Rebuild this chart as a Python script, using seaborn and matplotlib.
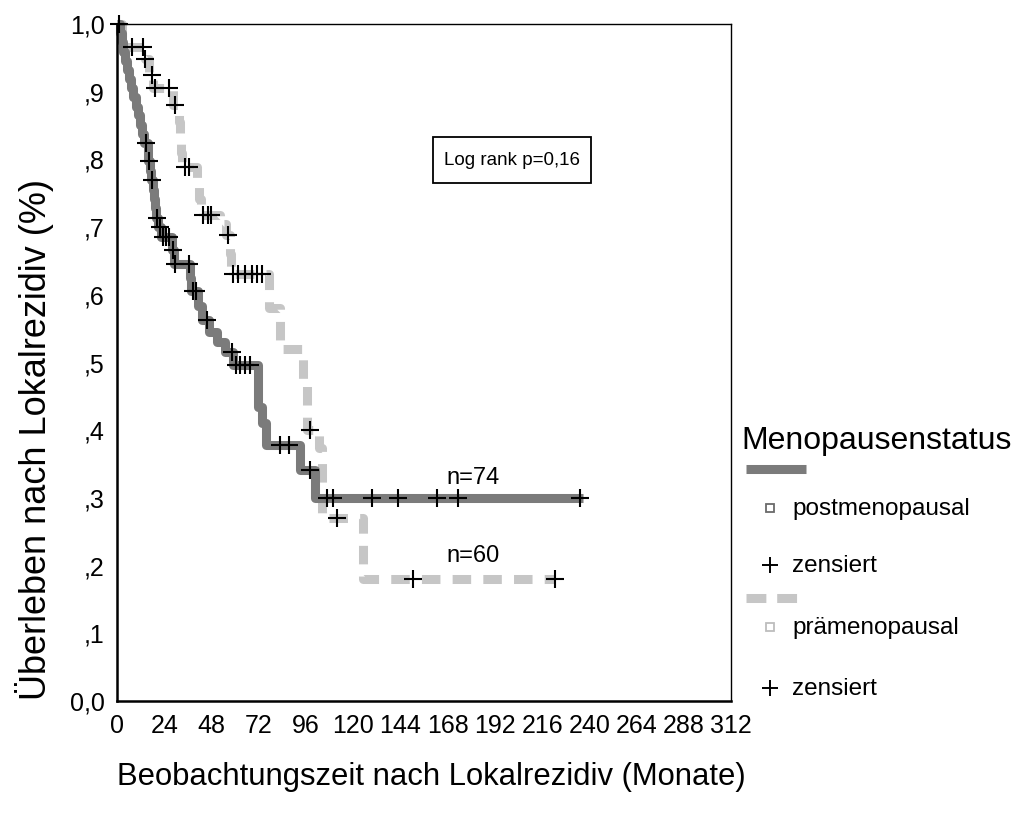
import numpy as np
import pandas as pd
import matplotlib
matplotlib.use("Agg")
import matplotlib.pyplot as plt
from matplotlib.lines import Line2D
from matplotlib.patches import Rectangle
from matplotlib import font_manager
import seaborn as sns

# ---------------- data ----------------
# postmenopausal (n=74): step curve (time in months, survival)
post_t = [0, 1.5, 2.5, 3, 4, 5, 6, 7, 8, 9.5, 10.5, 11.5, 12.5, 13.5, 15.5, 16, 17, 17.5, 18.5, 19,
          19.5, 20, 21, 22.5, 28, 29, 37.2, 37.6, 41, 43, 47, 51, 55, 59, 71.5, 73.5, 75.5, 93, 100.5, 237]
post_s = [1.0, .986, .973, .959, .946, .932, .919, .905, .892, .878, .865, .851, .838, .824, .811, .797, .783, .769, .755, .741,
          .728, .714, .700, .686, .666, .646, .625, .605, .584, .563, .545, .530, .516, .496, .435, .410, .378, .341, .300, .300]
# postmenopausal censored observations
post_ct = [1.0, 14.6, 16.4, 17.6, 20.2, 21.8, 23.5, 25, 26.5, 28.3, 29.5, 36.8, 38.5, 40, 45.6, 58.3, 60.5, 62.5, 65, 67.5,
           83, 87.5, 98, 106.5, 110, 129.4, 143, 162.4, 173.4, 235.3]
post_cs = [1.0, .824, .797, .769, .714, .700, .686, .686, .686, .666, .646, .646, .605, .605, .563, .516, .496, .496, .496, .496,
           .378, .378, .341, .300, .300, .300, .300, .300, .300, .300]

# prämenopausal (n=60)
pre_t = [0, 2.5, 3.5, 14, 16.5, 18.5, 28.5, 31.5, 32, 32.5, 33, 40.5, 41.5, 42.5, 52.5, 55.5, 57.5, 58, 77.4, 83,
         94.7, 96.4, 102.8, 104, 124.8, 222.6]
pre_s = [1.0, .983, .966, .948, .924, .905, .880, .855, .830, .810, .789, .765, .742, .718, .704, .689, .660, .631, .580, .520,
         .470, .400, .374, .270, .180, .180]
pre_ct = [7.5, 13, 14.2, 17.6, 19.3, 26.6, 29.5, 34.6, 36.7, 43.5, 46, 48, 56.2, 59.1, 61.6, 65, 68.4, 71, 73.5,
          98, 111.6, 150.6, 222.6]
pre_cs = [.966, .966, .948, .924, .905, .905, .880, .789, .789, .718, .718, .718, .689, .631, .631, .631, .631, .631, .631,
          .400, .270, .180, .180]

x_ticks = [0, 24, 48, 72, 96, 120, 144, 168, 192, 216, 240, 264, 288, 312]
y_ticks = [0.0, 0.1, 0.2, 0.3, 0.4, 0.5, 0.6, 0.7, 0.8, 0.9, 1.0]
y_ticklabels = ["0,0", ",1", ",2", ",3", ",4", ",5", ",6", ",7", ",8", ",9", "1,0"]

legend_title = "Menopausenstatus"
group_labels = ["postmenopausal", "prämenopausal"]
censor_label = "zensiert"
ylabel = "Überleben nach Lokalrezidiv (%)"
xlabel = "Beobachtungszeit nach Lokalrezidiv (Monate)"
stat_text = "Log rank p=0,16"
n_labels = ["n=74", "n=60"]

# ---------------- style ----------------
sns.set_theme(style="white")
names = {f.name for f in font_manager.fontManager.ttflist}
base = "Liberation Sans" if "Liberation Sans" in names else "DejaVu Sans"
narrow = "Liberation Sans Narrow" if "Liberation Sans Narrow" in names else base
plt.rcParams["font.family"] = [base, "DejaVu Sans"]
plt.rcParams["text.color"] = "black"
plt.rcParams["axes.labelcolor"] = "black"
plt.rcParams["xtick.color"] = "black"
plt.rcParams["ytick.color"] = "black"

dark = "#7b7b7b"
light = "#c6c6c6"
LW = 6.5

W, H = 1022, 821
fig = plt.figure(figsize=(W / 100, H / 100), dpi=100)
ax = fig.add_axes([117 / W, 1 - 701 / H, 614 / W, 677 / H])

def fx(px):
    return px / W

def fy(py):
    return 1 - py / H

# light (dashed) curve
df_pre = pd.DataFrame({"t": pre_t, "s": pre_s})
sns.lineplot(data=df_pre, x="t", y="s", ax=ax, drawstyle="steps-post", color=light,
             linewidth=LW, estimator=None, sort=False)
ln = ax.lines[-1]
ln.set_dashes([2.05, 1.35])
ln.set_dash_capstyle("butt")
ln.set_clip_on(False)

# dark (solid) curve
df_post = pd.DataFrame({"t": post_t, "s": post_s})
sns.lineplot(data=df_post, x="t", y="s", ax=ax, drawstyle="steps-post", color=dark,
             linewidth=LW, estimator=None, sort=False)
ax.lines[-1].set_clip_on(False)
ax.lines[-1].set_solid_capstyle("butt")

# censored marks
sns.scatterplot(x=pre_ct, y=pre_cs, ax=ax, marker="+", color="black", s=150,
                linewidth=1.5, clip_on=False, zorder=5)
sns.scatterplot(x=post_ct, y=post_cs, ax=ax, marker="+", color="black", s=150,
                linewidth=1.5, clip_on=False, zorder=5)

ax.set_xlim(0, 312)
ax.set_ylim(0, 1)
ax.set_xticks(x_ticks)
ax.set_xticklabels([str(v) for v in x_ticks], fontsize=18, family=[narrow, "DejaVu Sans"])
ax.set_yticks(y_ticks)
ax.set_yticklabels(y_ticklabels, fontsize=18, family=[narrow, "DejaVu Sans"])
ax.tick_params(direction="out", length=4, width=3, color="#222222", pad=5, labelcolor="black")
ax.set_xlabel("")
ax.set_ylabel("")
for side in ["left", "bottom"]:
    ax.spines[side].set_linewidth(1.8)
    ax.spines[side].set_color("black")
for side in ["top", "right"]:
    ax.spines[side].set_linewidth(1.0)
    ax.spines[side].set_color("black")
ax.grid(False)

# annotations
ax.add_patch(Rectangle((160.6, 0.765), 80.3, 0.068, facecolor="white", edgecolor="black",
                       linewidth=1.3, zorder=3))
ax.text(200.7, 0.799, stat_text, fontsize=13.5, ha="center", va="center", zorder=4)
ax.text(180.9, 0.329, n_labels[0], fontsize=17, ha="center", va="center")
ax.text(180.9, 0.214, n_labels[1], fontsize=17, ha="center", va="center")

# axis titles
fig.text(fx(35), fy(439), ylabel, rotation=90, fontsize=26, ha="center", va="center")
fig.text(fx(431), fy(777), xlabel, fontsize=22.3, ha="center", va="center")

# legend (drawn manually to mimic layout)
fig.text(fx(741), fy(441), legend_title, fontsize=23, ha="left", va="center")
fig.add_artist(Line2D([fx(746), fx(806)], [fy(469), fy(469)], transform=fig.transFigure,
                      color=dark, linewidth=LW, solid_capstyle="butt"))
fig.add_artist(Line2D([fx(770)], [fy(508)], transform=fig.transFigure, marker="s", markersize=6,
                      markerfacecolor="white", markeredgecolor="#6a6a6a", markeredgewidth=1.3, linestyle="none"))
fig.text(fx(792), fy(509), group_labels[0], fontsize=17.5, ha="left", va="center")
fig.add_artist(Line2D([fx(770)], [fy(565)], transform=fig.transFigure, marker="+", markersize=11,
                      color="black", markeredgewidth=1.4, linestyle="none"))
fig.text(fx(792), fy(566), censor_label, fontsize=17.5, ha="left", va="center")
dl = Line2D([fx(746), fx(797)], [fy(598), fy(598)], transform=fig.transFigure,
            color=light, linewidth=LW, dash_capstyle="butt")
dl.set_dashes([2.2, 1.2])
fig.add_artist(dl)
fig.add_artist(Line2D([fx(770)], [fy(627)], transform=fig.transFigure, marker="s", markersize=6,
                      markerfacecolor="white", markeredgecolor="#bdbdbd", markeredgewidth=1.3, linestyle="none"))
fig.text(fx(792), fy(628), group_labels[1], fontsize=17.5, ha="left", va="center")
fig.add_artist(Line2D([fx(770)], [fy(688)], transform=fig.transFigure, marker="+", markersize=11,
                      color="black", markeredgewidth=1.4, linestyle="none"))
fig.text(fx(792), fy(689), censor_label, fontsize=17.5, ha="left", va="center")

fig.savefig("out.png", dpi=100, facecolor="white")
